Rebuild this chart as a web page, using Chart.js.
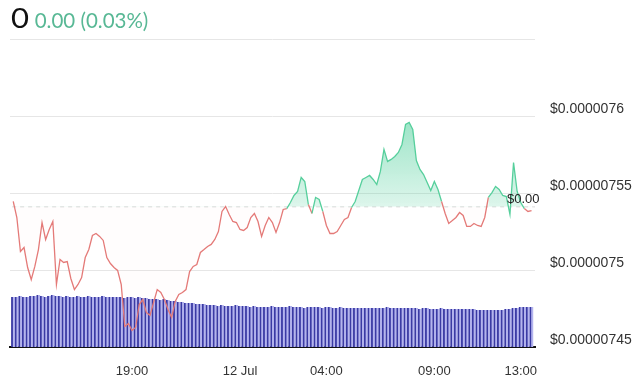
<!DOCTYPE html>
<html>
<head>
<meta charset="utf-8">
<script src="https://cdn.jsdelivr.net/npm/chart.js@4.4.1/dist/chart.umd.min.js"></script>
<style>
  html, body { margin: 0; padding: 0; background: #fff; }
  #wrap { position: relative; width: 640px; height: 379px; overflow: hidden; }
  #hdr { position: absolute; left: 11px; top: 1px; display: flex; align-items: baseline; font-family: Lato, "Open Sans", sans-serif; white-space: nowrap; }
  #hdr .p { font-size: 27px; color: #111; margin-right: 8px; transform: scaleX(1.15); transform-origin: left; display: inline-block; }
  #hdr .c { font-size: 20.5px; color: #58b895; }
  canvas { position: absolute; left: 0; top: 0; }
</style>
</head>
<body>
<div id="wrap">
  <canvas id="c" width="640" height="379"></canvas>
  <div id="hdr"><span class="p">0</span><span class="c">0.00 (0.03%)</span></div>
</div>
<script>
// ---- data (price in units of 1e-9 USD, time in hours since 11 Jul 00:00) ----
const startHour = 13.5;        // 11 Jul 13:30
const stepHours = 1 / 6;       // 10-minute samples
const price = [
  7544.5, 7534.1, 7512.0, 7514.6, 7501.6, 7493.8, 7502.3, 7513.3, 7530.8, 7519.8,
  7526.3, 7531.5, 7490.6, 7506.8, 7504.9, 7505.5, 7494.5, 7487.3, 7490.6, 7495.1,
  7508.1, 7513.3, 7522.4, 7523.7, 7521.8, 7519.2, 7508.1, 7504.2, 7501.6, 7499.7,
  7490.6, 7463.3, 7465.3, 7460.7, 7462.7, 7477.6, 7480.8, 7472.4, 7470.5, 7478.9,
  7487.3, 7485.4, 7480.8, 7474.4, 7469.2, 7479.5, 7484.1, 7485.4, 7487.3, 7499.0,
  7502.3, 7503.6, 7511.4, 7513.3, 7515.3, 7516.6, 7519.8, 7525.0, 7538.0, 7541.2,
  7536.0, 7531.5, 7530.8, 7526.3, 7525.7, 7527.6, 7534.1, 7536.7, 7531.5, 7521.8,
  7528.9, 7534.1, 7530.8, 7524.4, 7530.8, 7539.3, 7539.9, 7543.8, 7548.4, 7551.0,
  7560.1, 7557.5, 7542.5, 7536.7, 7547.1, 7545.8, 7538.0, 7528.9, 7523.7, 7523.7,
  7525.0, 7528.9, 7532.8, 7534.1, 7540.6, 7544.5, 7551.6, 7558.8, 7560.1, 7561.4,
  7558.8, 7555.5, 7564.0, 7578.3, 7570.5, 7571.8, 7573.7, 7576.3, 7581.5, 7594.5,
  7595.8, 7591.2, 7571.1, 7565.3, 7562.0, 7556.8, 7551.6, 7557.5, 7552.3, 7544.5,
  7536.7, 7530.2, 7532.1, 7534.1, 7537.3, 7535.4, 7528.3, 7528.3, 7530.2, 7528.9,
  7528.3, 7534.1, 7547.1, 7550.3, 7554.2, 7552.3, 7548.4, 7547.7, 7536.1, 7569.8,
  7551.0, 7543.8, 7539.9, 7538.0, 7538.6
];
const volume = [
  50, 50, 51, 50, 50, 51, 51, 52, 51, 50,
  51, 52, 51, 51, 50, 51, 50, 50, 51, 50,
  50, 51, 50, 50, 50, 51, 50, 50, 50, 50,
  50, 49, 50, 50, 49, 50, 49, 49, 48, 48,
  48, 47, 48, 47, 46, 46, 45, 45, 44, 44,
  44, 43, 43, 43, 42, 42, 42, 41, 42, 41,
  41, 41, 42, 41, 41, 41, 40, 41, 40, 40,
  40, 40, 41, 40, 40, 40, 40, 41, 40, 40,
  40, 39, 40, 40, 40, 40, 39, 40, 40, 39,
  39, 40, 39, 39, 39, 39, 39, 39, 39, 39,
  39, 39, 39, 39, 40, 39, 39, 39, 39, 39,
  39, 39, 39, 38, 39, 39, 38, 38, 38, 39,
  38, 38, 38, 38, 38, 38, 38, 38, 38, 37,
  37, 37, 37, 37, 37, 37, 37, 38, 38, 39,
  39, 40, 40, 40, 40
];
const basePrice = 7541;        // reference (previous close) level
const tickHours = [19, 24, 28, 33, 37];
const tickLabels = ['19:00', '12 Jul', '04:00', '09:00', '13:00'];
const priceTicks = [7450, 7500, 7550, 7600, 7650];
const xMin = 13.35, xMax = 37.66;

// ---- build ----
const times = price.map((_, i) => startHour + i * stepHours);
const pricePts = price.map((v, i) => ({ x: times[i], y: v }));
const volPts = volume.map((v, i) => ({ x: times[i], y: v }));
const basePts = [{ x: xMin + 0.1, y: basePrice }, { x: xMax, y: basePrice }];

const GREEN = '#56cf9c';
const RED = '#e47a78';
const xFont = { family: '"Liberation Sans", Arial, sans-serif', size: 13 };
const yFont = { family: '"Liberation Sans", Arial, sans-serif', size: 14 };

const lastLabel = {
  id: 'lastLabel',
  afterDatasetsDraw(chart) {
    const { ctx, chartArea, scales } = chart;
    const y = scales.y.getPixelForValue(basePrice);
    const last = price[price.length - 1] * 1e-9;
    ctx.save();
    ctx.font = '13px "Liberation Sans", Arial, sans-serif';
    ctx.fillStyle = '#222';
    ctx.textBaseline = 'middle';
    ctx.textAlign = 'left';
    ctx.fillText('$' + last.toFixed(2), chartArea.right - 28, y - 7);
    ctx.restore();
  }
};

new Chart(document.getElementById('c'), {
  type: 'line',
  data: {
    datasets: [
      {
        type: 'line',
        data: pricePts,
        yAxisID: 'y',
        order: 0,
        borderWidth: 1.3,
        pointRadius: 0,
        tension: 0,
        borderColor: GREEN,
        segment: {
          borderColor: c => ((c.p0.parsed.y + c.p1.parsed.y) / 2 >= basePrice ? GREEN : RED)
        },
        backgroundColor: (context) => {
          const { ctx, chartArea, scales } = context.chart;
          if (!chartArea || !scales.y) return 'rgba(86,207,156,0.3)';
          const top = scales.y.getPixelForValue(7600);
          const bot = scales.y.getPixelForValue(basePrice);
          const g = ctx.createLinearGradient(0, top, 0, bot);
          g.addColorStop(0, 'rgba(70,205,150,0.55)');
          g.addColorStop(1, 'rgba(70,205,150,0.18)');
          return g;
        },
        fill: { target: { value: basePrice }, below: 'rgba(235,120,120,0.01)' }
      },
      {
        type: 'line',
        data: basePts,
        yAxisID: 'y',
        order: 1,
        borderColor: '#d9d9d9',
        borderWidth: 1,
        borderDash: [4, 4],
        pointRadius: 0,
        fill: false
      },
      {
        type: 'bar',
        data: volPts,
        yAxisID: 'yv',
        order: 2,
        backgroundColor: '#b4b4ee',
        borderColor: '#3a3aa4',
        borderWidth: { left: 1.8, right: 0, top: 0, bottom: 0 },
        borderSkipped: false,
        barPercentage: 1,
        categoryPercentage: 1,
        grouped: false
      }
    ]
  },
  options: {
    responsive: false,
    animation: false,
    events: [],
    layout: { padding: { left: 10, top: 39, right: 0, bottom: 0 } },
    plugins: { legend: { display: false }, tooltip: { enabled: false } },
    scales: {
      x: {
        type: 'linear',
        min: xMin,
        max: xMax,
        offset: false,
        grid: { display: true, drawOnChartArea: false, drawTicks: false, offset: false },
        border: { display: true, color: '#111', width: 2 },
        afterBuildTicks: s => { s.ticks = tickHours.map(v => ({ value: v })); },
        afterFit: s => { s.height = 32; },
        ticks: {
          autoSkip: false,
          maxRotation: 0,
          padding: 17,
          color: '#333',
          font: xFont,
          callback: v => { const k = tickHours.indexOf(v); return k >= 0 ? tickLabels[k] : ''; }
        }
      },
      y: {
        position: 'right',
        min: 7450,
        max: 7650,
        afterBuildTicks: s => { s.ticks = priceTicks.map(v => ({ value: v })); },
        afterFit: s => { s.width = 105; },
        grid: { color: '#e6e6e6', drawTicks: false, lineWidth: 1 },
        border: { display: false },
        ticks: {
          padding: 15,
          labelOffset: -7,
          color: '#333',
          font: yFont,
          callback: v => (v >= 7650 ? '' : '$' + (v * 1e-9).toFixed(8).replace(/0+$/, ''))
        }
      },
      yv: {
        display: false,
        min: 0,
        max: 308
      }
    }
  },
  plugins: [lastLabel]
});
</script>
</body>
</html>
